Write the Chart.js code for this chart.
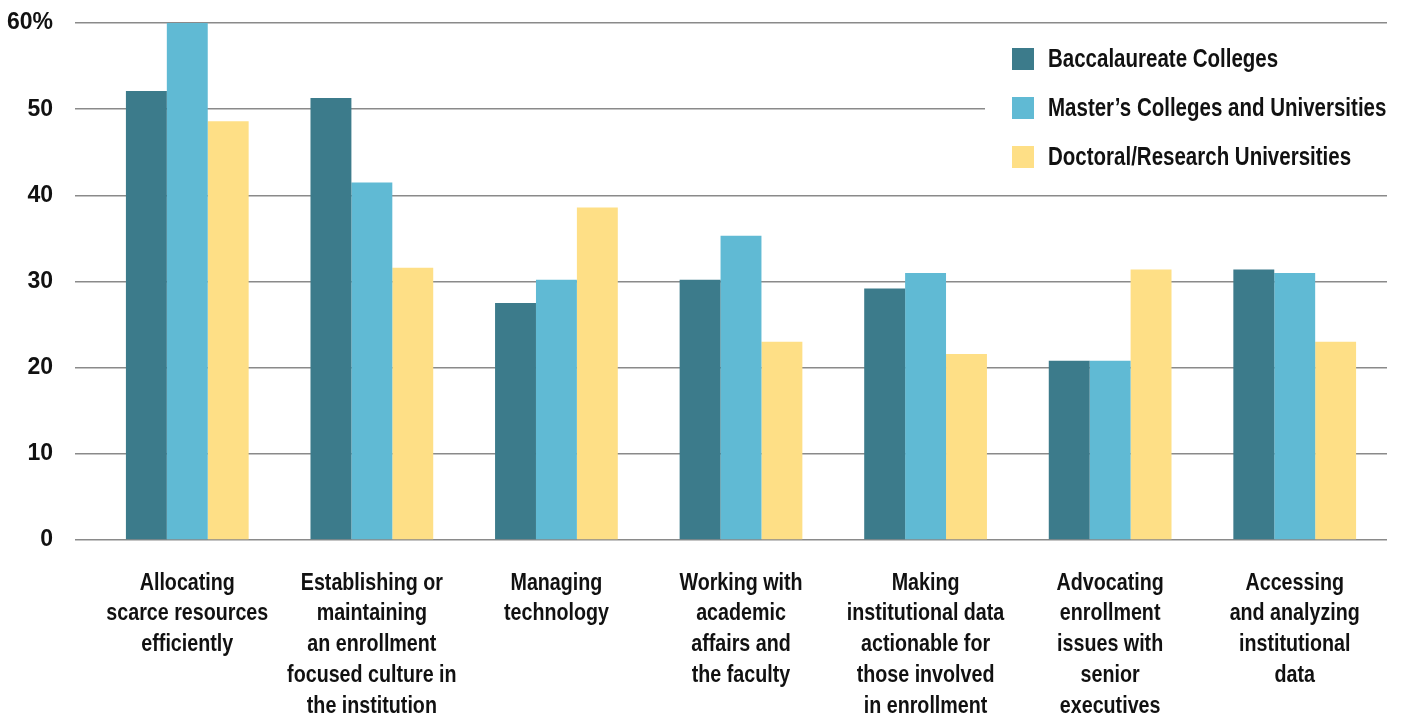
<!DOCTYPE html>
<html lang="en">
<head>
    <meta charset="UTF-8">
    <title>Enrollment Challenges by Institution Type</title>
    <script src="https://cdn.jsdelivr.net/npm/chart.js"></script>
    <style>
        html, body { margin: 0; padding: 0; background: #fff; }
        #wrap { width: 1404px; height: 719px; }
    </style>
</head>
<body>
    <div id="wrap"><canvas id="barChart"></canvas></div>

    <script>
        // Categories (multi-line labels)
        var categories = [
            ['Allocating', 'scarce resources', 'efficiently'],
            ['Establishing or', 'maintaining', 'an enrollment', 'focused culture in', 'the institution'],
            ['Managing', 'technology'],
            ['Working with', 'academic', 'affairs and', 'the faculty'],
            ['Making', 'institutional data', 'actionable for', 'those involved', 'in enrollment'],
            ['Advocating', 'enrollment', 'issues with', 'senior', 'executives'],
            ['Accessing', 'and analyzing', 'institutional', 'data']
        ];

        var seriesNames = ['Baccalaureate Colleges', 'Master\u2019s Colleges and Universities', 'Doctoral/Research Universities'];

        // Percent of respondents
        var baccalaureate = [52.1, 51.3, 27.5, 30.2, 29.2, 20.8, 31.4];
        var masters = [60.0, 41.5, 30.2, 35.3, 31.0, 20.8, 31.0];
        var doctoral = [48.6, 31.6, 38.6, 23.0, 21.6, 31.4, 23.0];

        var yTicks = [0, 10, 20, 30, 40, 50, 60];

        var colors = ['#3c7b8b', '#60bad4', '#fedf86'];
        var sans = '"Liberation Sans", Arial, sans-serif';
        var squeeze = 0.82; // condensed look for the label text

        // draw text squeezed horizontally around x
        function narrowText(ctx, text, x, y, align) {
            ctx.save();
            ctx.translate(x, y);
            ctx.scale(squeeze, 1);
            ctx.textAlign = align;
            ctx.fillText(text, 0, 0);
            ctx.restore();
        }

        // Category labels under each group, stacked lines
        var categoryLabels = {
            id: 'categoryLabels',
            afterDraw: function (chart) {
                var ctx = chart.ctx;
                var xs = chart.scales.x;
                ctx.save();
                ctx.font = 'bold 24px ' + sans;
                ctx.fillStyle = '#111';
                ctx.textBaseline = 'middle';
                chart.data.labels.forEach(function (lines, i) {
                    var x = xs.getPixelForValue(i);
                    lines.forEach(function (line, k) {
                        narrowText(ctx, line, x, chart.chartArea.bottom + 43 + k * 30.8, 'center');
                    });
                });
                ctx.restore();
            }
        };

        // Legend drawn inside the plot area, over a white panel
        var insideLegend = {
            id: 'insideLegend',
            afterDatasetsDraw: function (chart) {
                var ctx = chart.ctx;
                var right = chart.chartArea.right;
                ctx.save();
                ctx.fillStyle = '#fff';
                ctx.fillRect(right - 402, 30, 402, 155);
                ctx.font = 'bold 25px ' + sans;
                ctx.textBaseline = 'middle';
                chart.data.datasets.forEach(function (ds, i) {
                    var cy = 59 + i * 49;
                    ctx.fillStyle = ds.backgroundColor;
                    ctx.fillRect(right - 375, cy - 11, 22, 22);
                    ctx.fillStyle = '#111';
                    narrowText(ctx, ds.label, right - 339, cy + 1, 'left');
                });
                ctx.restore();
            }
        };

        var barChart = new Chart(document.getElementById('barChart'), {
            type: 'bar',
            data: {
                labels: categories,
                datasets: [
                    { label: seriesNames[0], data: baccalaureate, backgroundColor: colors[0] },
                    { label: seriesNames[1], data: masters, backgroundColor: colors[1] },
                    { label: seriesNames[2], data: doctoral, backgroundColor: colors[2] }
                ]
            },
            options: {
                responsive: true,
                maintainAspectRatio: false,
                animation: false,
                layout: { padding: { top: 23, right: 17, left: 0, bottom: 0 } },
                datasets: {
                    bar: { categoryPercentage: 0.665, barPercentage: 1.0 }
                },
                plugins: {
                    legend: { display: false },
                    tooltip: { enabled: false }
                },
                scales: {
                    x: {
                        grid: { display: false, drawTicks: false },
                        border: { display: false },
                        ticks: { display: false },
                        afterFit: function (scale) { scale.height = 179; }
                    },
                    y: {
                        min: 0,
                        max: 60,
                        afterBuildTicks: function (scale) {
                            scale.ticks = yTicks.map(function (v) { return { value: v }; });
                        },
                        grid: { color: '#8a8a8a', lineWidth: 1.5, tickLength: 20 },
                        border: { display: false },
                        ticks: {
                            color: '#111',
                            padding: 22,
                            font: { family: sans, size: 23, weight: 'bold' },
                            callback: function (v) { return v === 60 ? v + '%' : v; }
                        },
                        afterFit: function (scale) {
                            scale.width = 95;
                            scale.paddingTop = 0;
                            scale.paddingBottom = 0;
                        }
                    }
                }
            },
            plugins: [insideLegend, categoryLabels]
        });
    </script>
</body>
</html>
